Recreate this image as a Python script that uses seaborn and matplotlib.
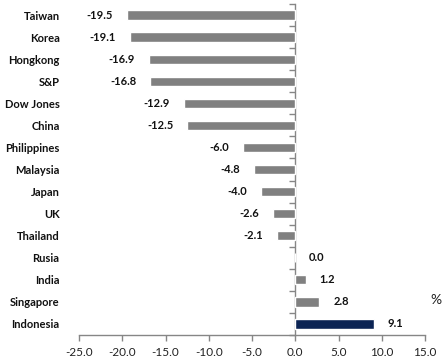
import matplotlib
matplotlib.use("Agg")
import matplotlib.pyplot as plt
import seaborn as sns
import pandas as pd

markets = ["Taiwan", "Korea", "Hongkong", "S&P", "Dow Jones", "China", "Philippines",
           "Malaysia", "Japan", "UK", "Thailand", "Rusia", "India", "Singapore", "Indonesia"]
changes = [-19.5, -19.1, -16.9, -16.8, -12.9, -12.5, -6.0, -4.8, -4.0, -2.6, -2.1,
           0.0, 1.2, 2.8, 9.1]
highlight = "Indonesia"
x_ticks = [-25.0, -20.0, -15.0, -10.0, -5.0, 0.0, 5.0, 10.0, 15.0]

sns.set_theme(style="white")
plt.rcParams["font.family"] = ["Lato", "DejaVu Sans"]

df = pd.DataFrame({"market": markets, "change": changes})
df["group"] = ["hi" if m == highlight else "other" for m in markets]

fig = plt.figure(figsize=(4.48, 3.62), dpi=100)
ax = fig.add_axes([79 / 448, 27 / 362, 346 / 448, 331 / 362])

sns.barplot(data=df, x="change", y="market", hue="group", orient="h",
            palette={"other": "#808080", "hi": "#002060"}, width=0.42,
            dodge=False, legend=False, ax=ax)

ax.set_xlim(x_ticks[0], x_ticks[-1])
ax.set_ylim(len(markets) - 0.5, -0.5)
ax.set_xticks(x_ticks)
ax.set_xticklabels([f"{t:.1f}" for t in x_ticks], fontsize=8.5, color="#222222")
ax.set_xlabel("")
ax.set_ylabel("")

axis_col = "#868686"
for s in ["top", "right", "left"]:
    ax.spines[s].set_visible(False)
ax.spines["bottom"].set_color(axis_col)
ax.spines["bottom"].set_linewidth(1.0)
ax.tick_params(axis="x", direction="out", length=4, width=1, color=axis_col, pad=5, bottom=True)
ax.tick_params(axis="y", length=0, pad=14)
for lbl in ax.get_yticklabels():
    lbl.set_fontweight("bold")
    lbl.set_fontsize(8)
    lbl.set_color("#111111")

# value axis line at zero with ticks between categories
zero_frac = (0 - x_ticks[0]) / (x_ticks[-1] - x_ticks[0])
sec = ax.secondary_yaxis(zero_frac)
sec.set_yticks([i - 0.5 for i in range(len(markets) + 1)])
sec.set_yticklabels([])
for s in sec.spines.values():
    s.set_color(axis_col)
    s.set_linewidth(1.0)
sec.tick_params(axis="y", direction="in", length=4, width=1, color=axis_col)

# value labels
for i, v in enumerate(changes):
    if v < 0:
        ax.text(v - 1.6, i, f"{v:.1f}", ha="right", va="center",
                fontsize=8, fontweight="bold", color="#111111")
    else:
        ax.text(v + 1.6, i, f"{v:.1f}", ha="left", va="center",
                fontsize=8, fontweight="bold", color="#111111")

fig.text(430 / 448, 1 - 300 / 362, "%", fontsize=10, ha="left", va="center", color="#222222")

fig.savefig("out.png", dpi=100)
